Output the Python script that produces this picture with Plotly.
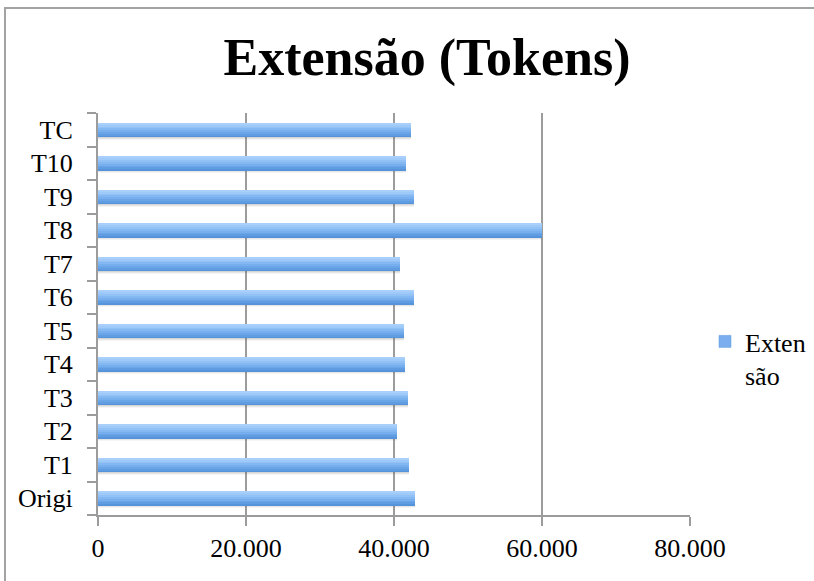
import plotly.graph_objects as go

# Token counts per text version
categories = ["Origi", "T1", "T2", "T3", "T4", "T5", "T6", "T7", "T8", "T9", "T10", "TC"]
tokens = [42800, 42000, 40400, 41900, 41500, 41350, 42700, 40800, 60000, 42700, 41600, 42300]
x_ticks = [0, 20000, 40000, 60000, 80000]
x_tick_labels = ["0", "20.000", "40.000", "60.000", "80.000"]
series_name = "Exten<br>são"

W, H = 814, 581
M_L, M_R, M_T, M_B = 98, 124, 113, 66
PW, PH = W - M_L - M_R, H - M_T - M_B


def px_x(p):
    return (p - M_L) / PW


def px_y(p):
    return (H - M_B - p) / PH


FONT = "Liberation Serif"
GRID = "#9c9c9c"
BAR_W = 0.42

fig = go.Figure()

# soft drop shadow under each bar
for off, alpha in [(-0.30, 0.06), (-0.27, 0.09), (-0.245, 0.12)]:
    fig.add_trace(go.Bar(
        y=categories, x=tokens, orientation="h",
        width=BAR_W, offset=off,
        marker=dict(color=f"rgba(90,90,90,{alpha})", line=dict(width=0)),
        showlegend=False, hoverinfo="skip",
    ))

# vertical gradient bands: darker at the bottom, lighter on top
bands = ["#5593da", "#5f9ce2", "#6aa5e8", "#77afee", "#84b8f2", "#91c1f5", "#9ec9f8", "#a9d0fa"]
n = len(bands)
for i, c in enumerate(bands):
    fig.add_trace(go.Bar(
        y=categories, x=tokens, orientation="h",
        width=BAR_W / n + 0.002, offset=-BAR_W / 2 + i * BAR_W / n,
        marker=dict(color=c, line=dict(width=0)),
        showlegend=False, hoverinfo="skip",
    ))

# legend entry
fig.add_trace(go.Bar(
    y=[None], x=[None], orientation="h", name=series_name,
    marker=dict(color="#7aaeee", line=dict(color="#5b98dc", width=0.5)),
))

shapes = [
    dict(type="line", xref="paper", yref="paper",
         x0=px_x(5), x1=px_x(5), y0=px_y(8), y1=px_y(H + 5),
         line=dict(color="#a3a3a3", width=2)),
    dict(type="line", xref="paper", yref="paper",
         x0=px_x(4), x1=px_x(W + 5), y0=px_y(8), y1=px_y(8),
         line=dict(color="#a3a3a3", width=2)),
]

fig.update_layout(
    width=W, height=H,
    margin=dict(l=M_L, r=M_R, t=M_T, b=M_B, autoexpand=False),
    paper_bgcolor="white", plot_bgcolor="white",
    barmode="overlay", bargap=0,
    title=dict(text="<b>Extensão (Tokens)</b>", xref="container", x=427 / W,
               xanchor="center", y=1 - 57 / H, yanchor="middle",
               font=dict(family=FONT, size=52, color="black")),
    font=dict(family=FONT, size=26, color="black"),
    xaxis=dict(
        range=[0, 80000], tickvals=x_ticks, ticktext=x_tick_labels,
        showgrid=True, gridcolor=GRID, gridwidth=2,
        showline=True, linecolor=GRID, linewidth=2,
        ticks="outside", ticklen=9, tickwidth=2, tickcolor=GRID,
        zeroline=False, tickfont=dict(family=FONT, size=26),
        fixedrange=True,
    ),
    yaxis=dict(
        type="category", categoryorder="array", categoryarray=categories,
        range=[-0.5, len(categories) - 0.5],
        showline=True, linecolor=GRID, linewidth=2,
        ticks="outside", tickson="boundaries", ticklen=9, tickwidth=2, tickcolor=GRID,
        ticklabelstandoff=18,
        showgrid=False, tickfont=dict(family=FONT, size=26),
        fixedrange=True,
    ),
    legend=dict(x=px_x(705), y=px_y(318), xanchor="left", yanchor="top",
                valign="top", font=dict(family=FONT, size=26),
                bgcolor="rgba(0,0,0,0)", itemwidth=30),
    shapes=shapes,
)

fig.write_html("out.html")
